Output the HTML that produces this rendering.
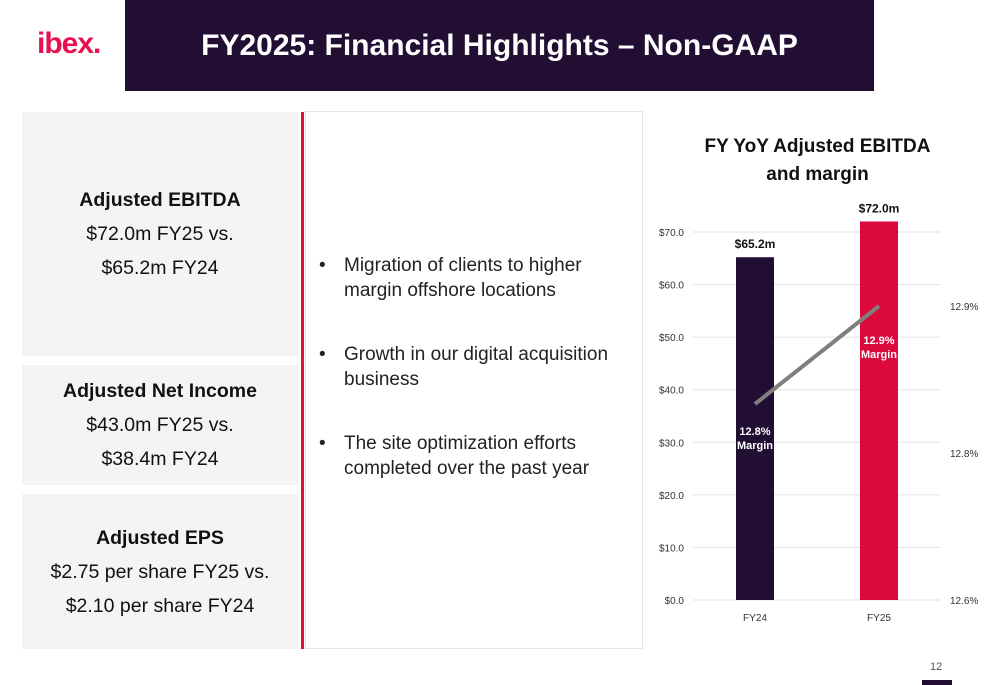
<!DOCTYPE html>
<html><head><meta charset="utf-8"><style>
body{margin:0;width:1000px;height:685px;position:relative;background:#fff;font-family:"Liberation Sans",sans-serif;overflow:hidden}
.abs{position:absolute}
.box{position:absolute;left:22px;width:276px;background:#f4f4f4;text-align:center;color:#111;font-size:19.5px;line-height:34px;display:flex;flex-direction:column;justify-content:center}
.box b{font-size:19.5px}
ul{margin:0;padding:0;list-style:none}
li{position:relative;padding-left:25px;font-size:19px;line-height:25px;color:#222;margin-bottom:39px}
li:before{content:"•";position:absolute;left:0;top:0}
</style></head><body>
<div class="abs" style="left:37px;top:27px;color:#e8104f;font-weight:bold;font-size:30px;letter-spacing:-1px">ibex.</div>
<div class="abs" style="left:125px;top:0;width:749px;height:91px;background:#220e33;color:#fff;font-size:30px;font-weight:bold;display:flex;align-items:center;justify-content:center;padding-right:0">FY2025: Financial Highlights – Non-GAAP</div>
<div class="box" style="top:112px;height:244px"><b>Adjusted EBITDA</b>$72.0m FY25 vs.<br>$65.2m FY24</div>
<div class="box" style="top:365px;height:120px"><b>Adjusted Net Income</b>$43.0m FY25 vs.<br>$38.4m FY24</div>
<div class="box" style="top:494px;height:155px"><b>Adjusted EPS</b>$2.75 per share FY25 vs.<br>$2.10 per share FY24</div>
<div class="abs" style="left:301px;top:112px;width:3px;height:537px;background:#e0103f"></div>
<div class="abs" style="left:305px;top:111px;width:338px;height:538px;border:1px solid #e6e6e6;box-sizing:border-box">
<ul style="position:absolute;left:13px;top:141px;width:300px">
<li>Migration of clients to higher margin offshore locations</li>
<li>Growth in our digital acquisition business</li>
<li>The site optimization efforts completed over the past year</li>
</ul></div>
<div class="abs" style="left:690px;top:133px;width:255px;text-align:center;font-weight:bold;font-size:19px;line-height:28px;color:#111">FY YoY Adjusted EBITDA<br>and margin</div>
<svg class="abs" style="left:0;top:0" width="1000" height="685" id="chart"></svg>
<div class="abs" style="left:930px;top:661px;font-size:11px;color:#555">12</div>
<div class="abs" style="left:922px;top:680px;width:30px;height:5px;background:#220e33"></div>
<script>
const categories=["FY24","FY25"];
const ebitda=[65.2,72.0];
const margins=[12.8,12.9];
const leftTicks=[0,10,20,30,40,50,60,70];
const rightTicks=[12.6,12.75,12.9];
const rightTickLabels=["12.6%","12.8%","12.9%"];
const barColors=["#220e33","#dc0a3c"];
const svg=document.getElementById('chart');const NS="http://www.w3.org/2000/svg";
const y0=600,pxPer=368/70;
const yL=v=>y0-v*pxPer;
const yR=v=>y0-(v-12.6)/0.3*294;
const xC=i=>755+i*124;
function el(t,a,txt){const e=document.createElementNS(NS,t);for(const k in a)e.setAttribute(k,a[k]);if(txt!=null)e.textContent=txt;svg.appendChild(e);return e;}
leftTicks.forEach(v=>{
const g=el('line',{x1:693,x2:940,y1:yL(v),y2:yL(v),stroke:'#e2e2e2','stroke-width':1});


const t=el('text',{x:684,y:yL(v)+4,'text-anchor':'end','font-size':10,fill:'#333','font-family':'Liberation Sans'},'$'+v.toFixed(1));


});
rightTicks.forEach((v,i)=>{
const t=el('text',{x:950,y:yR(v)+4,'font-size':10,fill:'#333','font-family':'Liberation Sans'},rightTickLabels[i]);


});
categories.forEach((c,i)=>{
const b=el('rect',{x:xC(i)-19,y:yL(ebitda[i]),width:38,height:y0-yL(ebitda[i]),fill:barColors[i]});


const l=el('text',{x:xC(i),y:yL(ebitda[i])-9,'text-anchor':'middle','font-size':12,'font-weight':'bold',fill:'#111','font-family':'Liberation Sans'},'$'+ebitda[i].toFixed(1)+'m');


const x=el('text',{x:xC(i),y:621,'text-anchor':'middle','font-size':10,fill:'#333','font-family':'Liberation Sans'},c);


});
const ln=el('line',{x1:xC(0),y1:yR(margins[0]),x2:xC(1),y2:yR(margins[1]),stroke:'#7f7f7f','stroke-width':4});


categories.forEach((c,i)=>{
const yy=i==0?yR(margins[0])+31:yR(margins[1])+38;
const a=el('text',{x:xC(i),y:yy,'text-anchor':'middle','font-size':11,'font-weight':'bold',fill:'#fff','font-family':'Liberation Sans'},margins[i].toFixed(1)+'%');


const m=el('text',{x:xC(i),y:yy+14,'text-anchor':'middle','font-size':11,'font-weight':'bold',fill:'#fff','font-family':'Liberation Sans'},'Margin');


});
</script>
</body></html>
